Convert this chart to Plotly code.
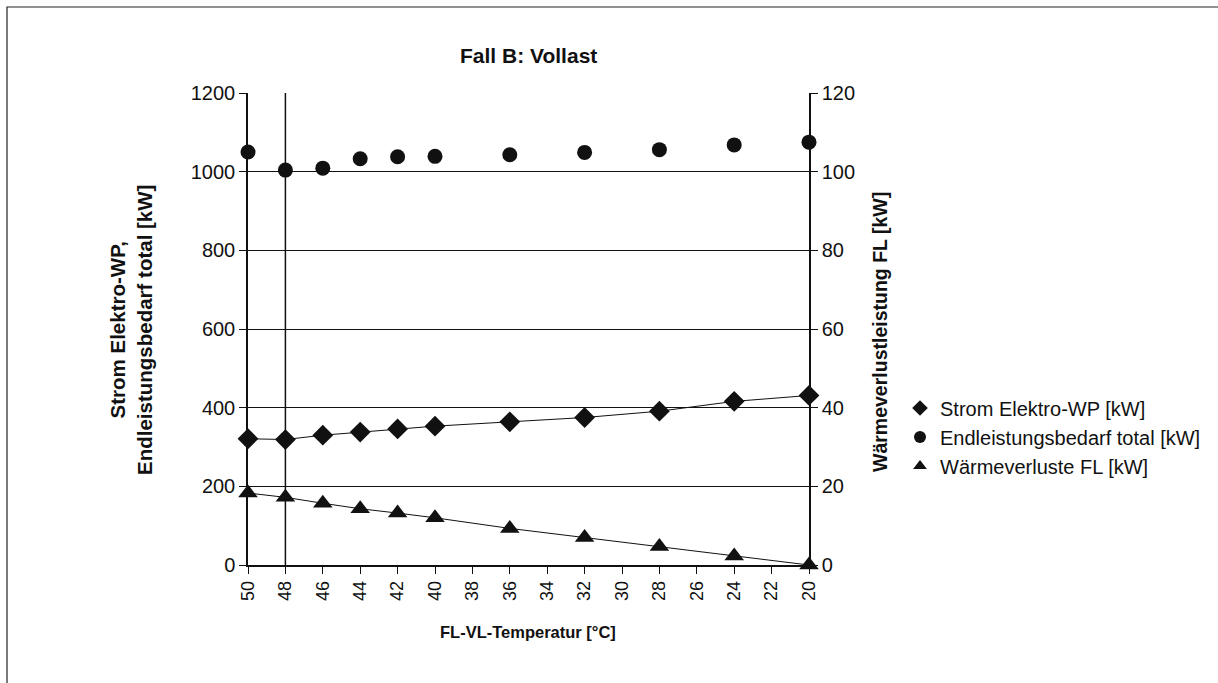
import plotly.graph_objects as go

# FL-VL-Temperatur [°C]
temperatur = [50, 48, 46, 44, 42, 40, 36, 32, 28, 24, 20]
# Strom Elektro-WP [kW]
strom_wp = [321, 319, 330, 338, 346, 353, 364, 375, 391, 416, 431]
# Endleistungsbedarf total [kW]
endleistung = [1050, 1004, 1009, 1033, 1038, 1039, 1043, 1049, 1056, 1068, 1075]
# Wärmeverluste FL [kW] (rechte Achse)
waermeverluste = [18.3, 17.2, 15.7, 14.3, 13.2, 12.0, 9.3, 7.0, 4.7, 2.3, 0.0]

x_ticks = list(range(50, 19, -2))
y_left_ticks = [0, 200, 400, 600, 800, 1000, 1200]
y_right_ticks = [0, 20, 40, 60, 80, 100, 120]

series_names = ["Strom Elektro-WP [kW]", "Endleistungsbedarf total [kW]",
                "Wärmeverluste FL [kW]"]

FONT = "Liberation Sans, Arial, sans-serif"
BLACK = "#111111"

fig = go.Figure()

# connecting lines (no legend entries)
fig.add_trace(go.Scatter(x=temperatur, y=strom_wp, mode="lines",
                         line=dict(color=BLACK, width=1), showlegend=False,
                         hoverinfo="skip", cliponaxis=False))
fig.add_trace(go.Scatter(x=temperatur, y=waermeverluste, mode="lines", yaxis="y2",
                         line=dict(color=BLACK, width=1), showlegend=False,
                         hoverinfo="skip", cliponaxis=False))

# data markers
fig.add_trace(go.Scatter(x=temperatur, y=strom_wp, mode="markers",
                         name=series_names[0], cliponaxis=False, showlegend=False,
                         marker=dict(symbol="diamond", size=16, color=BLACK)))
fig.add_trace(go.Scatter(x=temperatur, y=endleistung, mode="markers",
                         name=series_names[1], cliponaxis=False, showlegend=False,
                         marker=dict(symbol="circle", size=15, color=BLACK)))
fig.add_trace(go.Scatter(x=temperatur, y=waermeverluste, mode="markers", yaxis="y2",
                         name=series_names[2], cliponaxis=False, showlegend=False,
                         marker=dict(symbol="triangle-up", size=17, color=BLACK)))

# legend entries with smaller symbols
for name, sym in zip(series_names, ["diamond", "circle", "triangle-up"]):
    fig.add_trace(go.Scatter(x=[None], y=[None], mode="markers", name=name,
                             marker=dict(symbol=sym, size=12, color=BLACK)))

L, R, T, B = 248, 409, 93, 118
W, H = 1218, 683
pw, ph = W - L - R, H - T - B

def px(xp):
    return (xp - L) / pw

def py(yp):
    return (H - B - yp) / ph

shapes = [
    # vertical marker line at 48 °C
    dict(type="line", xref="x", yref="y", x0=48, x1=48, y0=0, y1=1200,
         line=dict(color=BLACK, width=1.5)),
    # outer frame
    dict(type="rect", xref="paper", yref="paper",
         x0=px(7), x1=px(1240), y0=py(700), y1=py(7),
         line=dict(color="#222222", width=1.2)),
]

def label(text, x, y, size, angle=0):
    return dict(text=text, xref="paper", yref="paper", x=px(x), y=py(y),
                xanchor="center", yanchor="middle", showarrow=False,
                textangle=angle, font=dict(family=FONT, size=size, color=BLACK))

annotations = [
    label("<b>Fall B: Vollast</b>", 528, 55, 21),
    label("<b>FL-VL-Temperatur [°C]</b>", 528, 632, 16.5),
    label("<b>Strom Elektro-WP,<br>Endleistungsbedarf total [kW]</b>", 131, 330, 20.5, -90),
    label("<b>Wärmeverlustleistung FL [kW]</b>", 880, 332, 19.5, -90),
]

fig.update_layout(
    width=W, height=H,
    margin=dict(l=L, r=R, t=T, b=B, autoexpand=False),
    paper_bgcolor="white", plot_bgcolor="white",
    font=dict(family=FONT, size=19, color=BLACK),
    showlegend=True,
    legend=dict(x=px(900), y=py(437), xanchor="left", yanchor="middle",
                font=dict(family=FONT, size=20, color=BLACK),
                bgcolor="rgba(0,0,0,0)", itemwidth=30, tracegroupgap=0),
    xaxis=dict(range=[50, 20], tickvals=x_ticks, tickangle=-90,
               showgrid=False, zeroline=False,
               showline=True, linecolor=BLACK, linewidth=1.5,
               ticks="outside", ticklen=7, tickcolor=BLACK,
               tickfont=dict(family=FONT, size=18, color=BLACK)),
    yaxis=dict(range=[0, 1200], tickvals=y_left_ticks,
               showgrid=True, gridcolor=BLACK, gridwidth=1.2, zeroline=False,
               showline=True, linecolor=BLACK, linewidth=1.5,
               ticks="outside", ticklen=7, tickcolor=BLACK,
               tickfont=dict(family=FONT, size=20, color=BLACK)),
    yaxis2=dict(range=[0, 120], tickvals=y_right_ticks, overlaying="y", side="right",
                showgrid=False, zeroline=False,
                showline=True, linecolor=BLACK, linewidth=1.5,
                ticks="outside", ticklen=7, tickcolor=BLACK,
                tickfont=dict(family=FONT, size=20, color=BLACK)),
    shapes=shapes,
    annotations=annotations,
)

fig.write_html("out.html")
